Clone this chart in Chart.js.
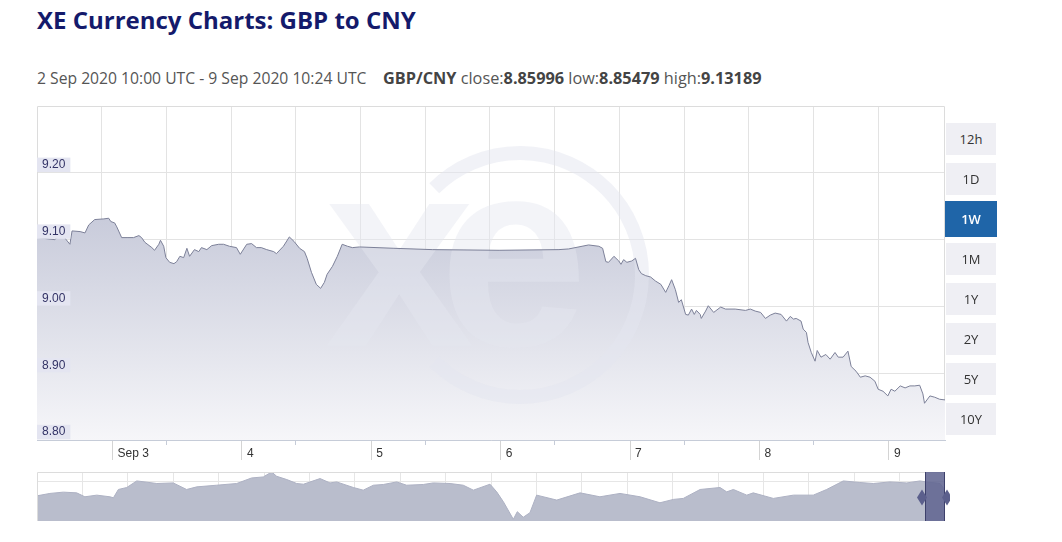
<!DOCTYPE html>
<html>
<head>
<meta charset="utf-8">
<title>XE Currency Charts: GBP to CNY</title>
<script src="https://cdn.jsdelivr.net/npm/chart.js@4.4.0/dist/chart.umd.min.js"></script>
<style>
  html, body { margin: 0; padding: 0; background: #fff; }
  body { width: 1062px; height: 542px; position: relative; overflow: hidden; font-family: 'Open Sans', sans-serif; }
  #title { position: absolute; left: 37px; top: 4px; margin: 0; font-size: 24px; line-height: 32px; font-weight: 700; color: #141a6b; white-space: nowrap; }
  #subtitle { position: absolute; left: 37px; top: 68px; font-size: 15.7px; line-height: 20px; color: #555; white-space: nowrap; }
  #subtitle b { color: #444; font-weight: 700; }
  #subtitle .pair { position: absolute; left: 346px; top: 0; font-size: 16.3px; }
  #main { position: absolute; left: 0; top: 100px; width: 950px; height: 370px; }
  #nav { position: absolute; left: 0; top: 466px; width: 950px; height: 60px; }
  .btn { position: absolute; left: 946px; width: 50px; height: 32px; line-height: 32px; text-align: center; font-size: 13px; color: #333; background: #efeff4; }
  .btn.active { left: 945px; width: 52px; height: 36px; line-height: 36px; background: #1f65a8; color: #fff; font-weight: 600; }
</style>
</head>
<body>
<h1 id="title">XE Currency Charts: GBP to CNY</h1>
<div id="subtitle">2 Sep 2020 10:00 UTC - 9 Sep 2020 10:24 UTC<span class="pair"><b>GBP/CNY</b> close:<b>8.85996</b> low:<b>8.85479</b> high:<b>9.13189</b></span></div>
<div id="main"><canvas id="rate-chart"></canvas></div>
<div id="nav"><canvas id="nav-chart"></canvas></div>
<div id="buttons"></div>
<script>
// hours since 2 Sep 2020 10:00 UTC, and GBP/CNY rate
const hours = [0, 3.3, 4.6, 5.4, 6.1, 6.5, 8.0, 8.9, 9.6, 10.7,
  12.4, 13.3, 13.7, 14.4, 14.8, 15.7, 16.7, 17.9, 18.9, 19.4,
  20.0, 21.3, 21.8, 22.6, 22.9, 23.5, 23.9, 24.6, 25.4, 25.9,
  26.5, 27.2, 27.8, 28.3, 29.2, 30.0, 30.5, 31.5, 32.4, 33.7,
  34.6, 35.7, 37.0, 37.7, 38.9, 39.8, 40.7, 41.6, 42.6, 43.9,
  44.4, 45.7, 46.8, 47.7, 48.7, 49.6, 50.1, 50.9, 51.8, 52.6,
  53.3, 53.8, 54.8, 55.7, 56.6, 57.6, 58.5, 59.8, 66.2, 73.3,
  85.7, 96.8, 98.6, 102.3, 104.2, 104.9, 105.5, 106.0, 107.0, 107.9,
  108.3, 108.8, 109.4, 110.3, 111.0, 111.6, 112.1, 112.9, 113.8, 114.7,
  115.7, 116.6, 117.2, 117.7, 118.4, 119.0, 119.5, 120.3, 120.8, 121.4,
  121.9, 122.3, 123.0, 123.2, 124.0, 124.5, 125.5, 126.8, 127.7, 129.5,
  131.4, 132.3, 133.2, 134.2, 135.1, 136.0, 136.9, 138.0, 139.0, 139.7,
  140.3, 140.8, 141.7, 142.1, 142.7, 143.0, 143.6, 144.3, 144.7, 145.4,
  146.3, 147.1, 148.0, 148.6, 149.5, 150.4, 151.0, 151.9, 152.7, 153.6,
  154.5, 155.4, 156.0, 156.9, 157.8, 158.4, 159.1, 160.1, 161.0, 161.9,
  162.8, 163.7, 164.3, 164.6, 165.6, 166.5, 167.4, 168.4];
const rates = [9.103, 9.100, 9.110, 9.100, 9.093, 9.113, 9.112, 9.110, 9.122, 9.130,
  9.131, 9.132, 9.127, 9.125, 9.119, 9.103, 9.103, 9.103, 9.106, 9.103,
  9.096, 9.088, 9.084, 9.093, 9.099, 9.090, 9.073, 9.066, 9.064, 9.067,
  9.075, 9.073, 9.087, 9.075, 9.085, 9.082, 9.088, 9.085, 9.091, 9.093,
  9.093, 9.090, 9.088, 9.078, 9.093, 9.094, 9.088, 9.088, 9.085, 9.082,
  9.079, 9.090, 9.104, 9.097, 9.087, 9.082, 9.072, 9.051, 9.033, 9.027,
  9.036, 9.048, 9.060, 9.075, 9.093, 9.090, 9.088, 9.089, 9.087, 9.085,
  9.084, 9.085, 9.086, 9.092, 9.090, 9.087, 9.067, 9.066, 9.075, 9.068,
  9.063, 9.070, 9.066, 9.068, 9.072, 9.055, 9.049, 9.046, 9.044, 9.038,
  9.033, 9.021, 9.031, 9.040, 9.025, 9.006, 9.010, 8.988, 8.987, 8.996,
  8.988, 8.994, 8.988, 8.982, 8.993, 9.001, 8.991, 8.999, 8.996, 8.996,
  8.994, 8.996, 8.993, 8.991, 8.982, 8.987, 8.990, 8.988, 8.978, 8.985,
  8.981, 8.982, 8.978, 8.966, 8.961, 8.946, 8.931, 8.918, 8.934, 8.924,
  8.928, 8.921, 8.931, 8.924, 8.924, 8.933, 8.910, 8.903, 8.894, 8.896,
  8.894, 8.888, 8.876, 8.873, 8.866, 8.876, 8.873, 8.881, 8.878, 8.881,
  8.881, 8.882, 8.869, 8.855, 8.866, 8.864, 8.861, 8.860];

const rangeHours = 168.4;
const yTicks = [8.80, 8.90, 9.00, 9.10, 9.20];
const gridHours = [12, 24, 36, 48, 60, 72, 84, 96, 108, 120, 132, 144, 156];
const minorTickHours = [24, 48, 72, 96, 120, 144];
const dayTickHours = [14, 38, 62, 86, 110, 134, 158];
const dayTickLabels = ['Sep 3', '4', '5', '6', '7', '8', '9'];

// navigator: one year of rates, days since 9 Sep 2019
const navDays = [0, 5.2, 10.6, 16.0, 19.3, 24.1, 29.4, 30.8, 32.8, 36.2,
  40.2, 43.5, 48.3, 54.9, 60.3, 64.4, 72.4, 80.5, 86.5, 91.2,
  94.6, 96.6, 100.7, 104.7, 107.4, 114.1, 118.1, 120.8, 127.5, 131.5,
  135.6, 139.6, 145.0, 149.0, 155.7, 159.7, 166.5, 171.8, 175.9, 182.6,
  185.3, 188.0, 192.0, 193.6, 196.0, 198.7, 201.4, 209.5, 218.9, 226.9,
  235.0, 243.1, 251.1, 256.5, 260.5, 267.3, 275.3, 278.0, 280.7, 286.1,
  288.7, 296.8, 304.9, 312.9, 318.3, 325.0, 331.7, 337.1, 343.8, 350.6,
  355.9, 358.6, 364.0, 366.0];
const navRates = [8.776, 8.834, 8.865, 8.848, 8.753, 8.793, 8.753, 8.729, 8.929, 8.977,
  9.135, 9.111, 9.073, 9.087, 8.929, 8.992, 9.032, 9.073, 9.207, 9.231,
  9.350, 9.247, 9.168, 9.073, 9.056, 9.192, 9.087, 9.111, 8.977, 8.913,
  9.032, 9.049, 9.111, 9.032, 9.049, 9.087, 9.073, 9.032, 8.913, 9.056,
  8.872, 8.633, 8.212, 8.394, 8.260, 8.370, 8.793, 8.674, 8.848, 8.753,
  8.834, 8.753, 8.609, 8.690, 8.714, 8.929, 8.977, 8.872, 8.929, 8.793,
  8.848, 8.714, 8.793, 8.793, 8.929, 9.135, 9.097, 9.073, 9.111, 9.087,
  9.135, 9.111, 9.073, 8.913];
const navRangeDays = 366;
const navSelStart = 358;
const navGridStep = 18.3;

const rangeButtons = ['12h', '1D', '1W', '1M', '1Y', '2Y', '5Y', '10Y'];
const activeRange = '1W';

// range buttons on the right
const btnBox = document.getElementById('buttons');
rangeButtons.forEach((label, i) => {
    const b = document.createElement('div');
    b.className = 'btn' + (label === activeRange ? ' active' : '');
    b.textContent = label;
    b.style.top = (123 + i * 40 - (label === activeRange ? 2 : 0)) + 'px';
    btnBox.appendChild(b);
});

const tickFont = { family: "'Liberation Sans', Arial, sans-serif", size: 12 };
const gridColor = '#e3e3e3';

const points = hours.map((h, i) => ({ x: h, y: rates[i] }));

// plot frame (left, top, right)
const framePlugin = {
    id: 'frame',
    beforeDatasetsDraw(chart) {
        const { ctx, chartArea: a } = chart;
        ctx.save();
        ctx.strokeStyle = '#dcdcdc';
        ctx.lineWidth = 1;
        ctx.beginPath();
        ctx.moveTo(a.left + 0.5, a.bottom);
        ctx.lineTo(a.left + 0.5, a.top + 0.5);
        ctx.lineTo(a.right - 0.5, a.top + 0.5);
        ctx.lineTo(a.right - 0.5, a.bottom);
        ctx.stroke();
        ctx.restore();
    },
};

// faint xe logo, drawn between the fill and the line
const watermarkPlugin = {
    id: 'watermark',
    afterDatasetDraw(chart, args) {
        if (args.index !== 1) return;
        const { ctx, chartArea: a } = chart;
        ctx.save();
        ctx.beginPath();
        ctx.rect(a.left, a.top, a.width, a.height);
        ctx.clip();
        ctx.fillStyle = 'rgba(228, 230, 239, 0.45)';
        ctx.strokeStyle = 'rgba(228, 230, 239, 0.5)';
        ctx.font = "bold 268px 'Liberation Sans', Arial, sans-serif";
        ctx.textBaseline = 'alphabetic';
        const base = a.top + a.height * 0.717;
        ctx.fillText('x', a.left + 288, base);
        ctx.fillText('e', a.left + 402, base);
        ctx.lineWidth = 14;
        ctx.beginPath();
        ctx.arc(a.left + 483, a.top + 169, 122, -2.35, 2.35);
        ctx.stroke();
        ctx.restore();
    },
};

new Chart(document.getElementById('rate-chart'), {
    type: 'line',
    data: {
        datasets: [
            {
                label: 'GBP/CNY',
                data: points,
                borderColor: '#7c8098',
                borderWidth: 1,
                pointRadius: 0,
                fill: false,
                tension: 0,
            },
            {
                label: 'fill',
                data: points,
                borderWidth: 0,
                pointRadius: 0,
                fill: 'start',
                tension: 0,
                backgroundColor: (context) => {
                    const { chart } = context;
                    const { ctx, chartArea } = chart;
                    if (!chartArea) return 'rgba(200, 203, 218, 0.8)';
                    const g = ctx.createLinearGradient(0, chartArea.top, 0, chartArea.bottom);
                    g.addColorStop(0, '#c2c5d6');
                    g.addColorStop(0.3, '#c6c9d9');
                    g.addColorStop(1, '#f6f6f9');
                    return g;
                },
            },
        ],
    },
    options: {
        responsive: true,
        maintainAspectRatio: false,
        animation: false,
        events: [],
        layout: { padding: { left: 37, right: 5, top: 6, bottom: 0 }, autoPadding: false },
        plugins: {
            legend: { display: false },
            tooltip: { enabled: false },
        },
        scales: {
            x: {
                type: 'linear',
                position: 'bottom',
                min: 0,
                max: rangeHours,
                afterBuildTicks: (s) => { s.ticks = gridHours.map((v) => ({ value: v })); },
                afterFit: (s) => { s.height = 0; s.paddingLeft = 0; s.paddingRight = 0; },
                ticks: { display: false },
                grid: { color: gridColor, drawTicks: false },
                border: { display: true, color: '#c6ccd8' },
            },
            xMinor: {
                type: 'linear',
                position: 'bottom',
                min: 0,
                max: rangeHours,
                afterBuildTicks: (s) => { s.ticks = minorTickHours.map((v) => ({ value: v })); },
                afterFit: (s) => { s.height = 0; s.paddingLeft = 0; s.paddingRight = 0; },
                ticks: { display: false },
                grid: { drawOnChartArea: false, tickLength: 5, color: '#c6ccd8' },
                border: { display: false },
            },
            xDays: {
                type: 'linear',
                position: 'bottom',
                min: 0,
                max: rangeHours,
                afterBuildTicks: (s) => { s.ticks = dayTickHours.map((v) => ({ value: v })); },
                afterFit: (s) => { s.height = 30; s.paddingLeft = 0; s.paddingRight = 0; },
                ticks: {
                    autoSkip: false,
                    maxRotation: 0,
                    align: 'start',
                    labelOffset: 5,
                    padding: -14,
                    color: '#333',
                    font: tickFont,
                    callback: (value, index) => dayTickLabels[index],
                },
                grid: { drawOnChartArea: false, tickLength: 20, color: '#d4d4d4' },
                border: { display: false },
            },
            y: {
                min: 8.8,
                max: 9.3,
                afterBuildTicks: (s) => { s.ticks = yTicks.map((v) => ({ value: v })); },
                afterFit: (s) => { s.width = 0; s.paddingTop = 0; s.paddingBottom = 0; },
                ticks: {
                    z: 1,
                    autoSkip: false,
                    mirror: true,
                    padding: 5,
                    labelOffset: -8,
                    color: '#333366',
                    font: tickFont,
                    showLabelBackdrop: true,
                    backdropColor: '#e4e5f1',
                    backdropPadding: { top: 0, bottom: 0, left: 5, right: 5 },
                    callback: (value) => Number(value).toFixed(2),
                },
                grid: { color: gridColor, drawTicks: false },
                border: { display: false },
            },
        },
    },
    plugins: [framePlugin, watermarkPlugin],
});

// navigator mask and handles at the selected week
const navMaskPlugin = {
    id: 'navMask',
    afterDatasetsDraw(chart) {
        const { ctx, chartArea: a, scales } = chart;
        const x0 = Math.round(scales.x.getPixelForValue(navSelStart));
        const x1 = Math.round(a.right);
        ctx.save();
        ctx.strokeStyle = '#dcdcdc';
        ctx.lineWidth = 1;
        ctx.beginPath();
        ctx.moveTo(a.left + 0.5, a.bottom);
        ctx.lineTo(a.left + 0.5, a.top + 0.5);
        ctx.lineTo(a.right, a.top + 0.5);
        ctx.stroke();
        ctx.fillStyle = 'rgba(98, 102, 146, 0.88)';
        ctx.fillRect(x0, a.top, x1 - x0, a.height);
        ctx.strokeStyle = '#3d406b';
        ctx.beginPath();
        ctx.moveTo(x0 + 0.5, a.top); ctx.lineTo(x0 + 0.5, a.bottom);
        ctx.moveTo(x1 - 0.5, a.top); ctx.lineTo(x1 - 0.5, a.bottom);
        ctx.stroke();
        const cy = a.top + a.height * 0.52;
        ctx.fillStyle = '#5b5f8c';
        [x0 - 3, x1 + 2].forEach((cx) => {
            ctx.beginPath();
            ctx.moveTo(cx, cy - 8);
            ctx.lineTo(cx + 5, cy);
            ctx.lineTo(cx, cy + 8);
            ctx.lineTo(cx - 5, cy);
            ctx.closePath();
            ctx.fill();
        });
        ctx.restore();
    },
};

new Chart(document.getElementById('nav-chart'), {
    type: 'line',
    data: {
        datasets: [
            {
                label: 'navigator',
                data: navDays.map((d, i) => ({ x: d, y: navRates[i] })),
                borderColor: '#adb1c3',
                borderWidth: 1,
                backgroundColor: '#b9bdcc',
                fill: 'start',
                pointRadius: 0,
                tension: 0,
            },
        ],
    },
    options: {
        responsive: true,
        maintainAspectRatio: false,
        animation: false,
        events: [],
        layout: { padding: { left: 37, right: 5, top: 6, bottom: 5 }, autoPadding: false },
        plugins: {
            legend: { display: false },
            tooltip: { enabled: false },
        },
        scales: {
            x: {
                type: 'linear',
                min: 0,
                max: navRangeDays,
                afterBuildTicks: (s) => {
                    const t = [];
                    for (let v = navGridStep; v < navRangeDays - 1; v += navGridStep) t.push({ value: v });
                    s.ticks = t;
                },
                afterFit: (s) => { s.height = 0; s.paddingLeft = 0; s.paddingRight = 0; },
                ticks: { display: false },
                grid: { color: '#e6e6e6', drawTicks: false },
                border: { display: false },
            },
            y: {
                min: 8.17,
                max: 9.35,
                afterBuildTicks: (s) => { s.ticks = [{ value: 9.111 }]; },
                afterFit: (s) => { s.width = 0; s.paddingTop = 0; s.paddingBottom = 0; },
                ticks: { display: false },
                grid: { color: '#e6e6e6', drawTicks: false },
                border: { display: false },
            },
        },
    },
    plugins: [navMaskPlugin],
});
</script>
</body>
</html>
